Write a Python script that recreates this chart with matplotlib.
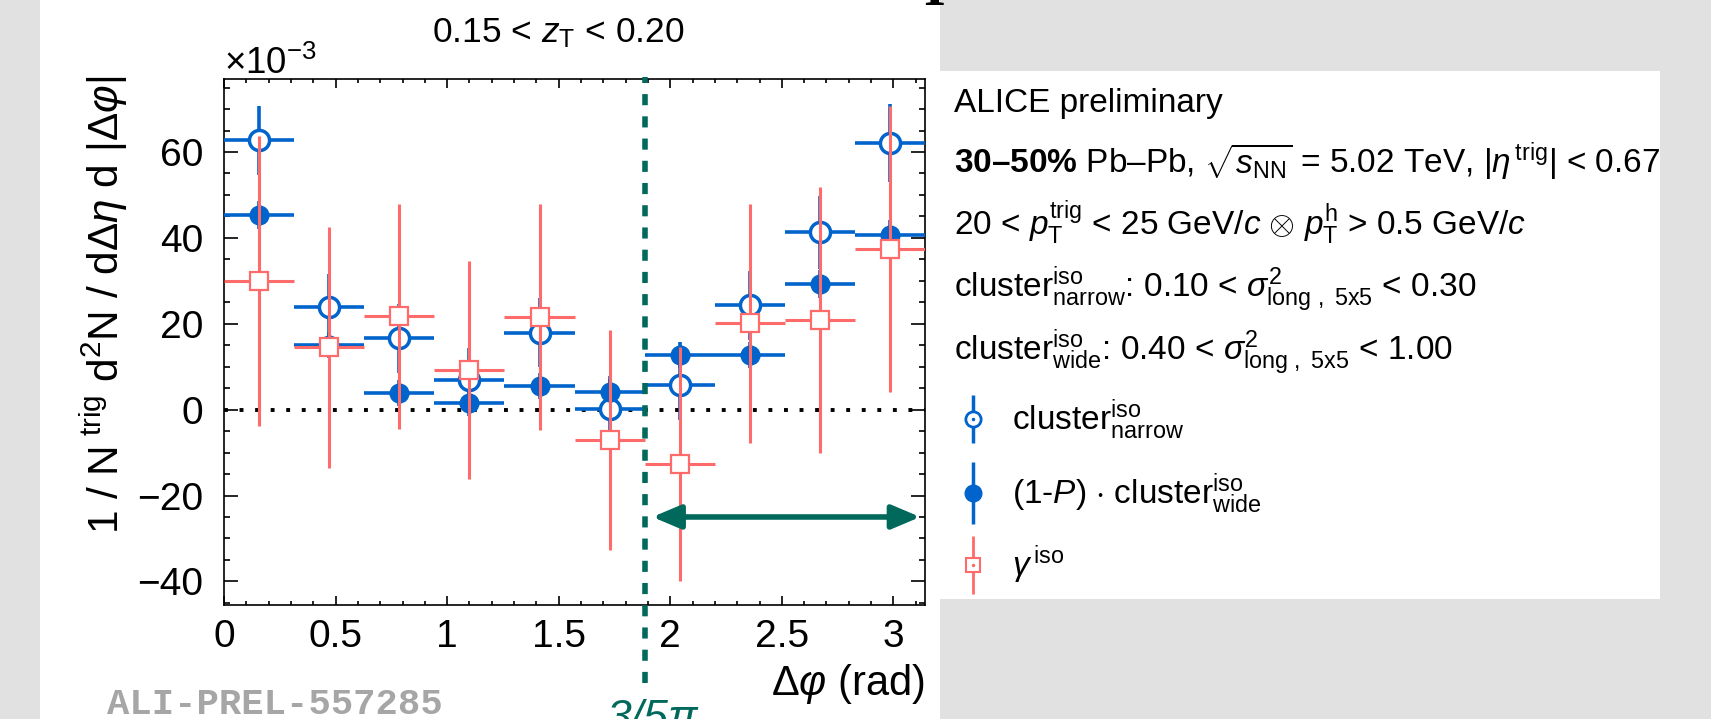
import numpy as np
import matplotlib.pyplot as plt
from matplotlib.patches import Rectangle
from matplotlib.lines import Line2D
from matplotlib.legend_handler import HandlerTuple
from matplotlib.ticker import MultipleLocator, FuncFormatter

plt.rcParams['font.family'] = ['Liberation Sans', 'DejaVu Sans']
plt.rcParams['mathtext.fontset'] = 'custom'
plt.rcParams['mathtext.rm'] = 'Liberation Sans'
plt.rcParams['mathtext.it'] = 'Liberation Sans:italic'
plt.rcParams['mathtext.bf'] = 'Liberation Sans:bold'

# --- datos (en unidades de 1e-3) ---
dphi = [0.157, 0.471, 0.785, 1.100, 1.414, 1.728, 2.042, 2.356, 2.670, 2.985]
dphi_err = [0.157, 0.157, 0.157, 0.157, 0.157, 0.157, 0.157, 0.157, 0.157, 0.157]

narrow = [62.7, 23.8, 16.6, 6.9, 17.9, 0.1, 5.7, 24.3, 41.3, 62.1]
narrow_err = [8.0, 7.9, 8.0, 7.5, 8.0, 7.8, 8.0, 8.0, 8.5, 9.0]

wide = [45.4, 15.0, 3.9, 1.6, 5.5, 4.1, 12.8, 12.8, 29.2, 40.6]
wide_err = [3.3, 3.0, 3.0, 3.0, 3.0, 3.0, 3.0, 3.0, 3.3, 3.5]

gamma = [29.9, 14.5, 21.7, 9.2, 21.6, -7.1, -12.6, 20.1, 20.8, 37.5]
gamma_err = [33.8, 28.0, 26.1, 25.4, 26.4, 25.6, 27.2, 27.9, 31.0, 33.3]

corte_phi = 3 * np.pi / 5
flecha_x = [1.92, 3.12]
flecha_y = -25

AZUL = '#0064cc'
ROJO = '#ff6a6a'
VERDE = '#00695c'

W, H = 1711, 719
fig = plt.figure(figsize=(W / 100, H / 100), dpi=100, facecolor='#e1e1e1')

# paneles blancos del fondo
fig.patches.append(Rectangle((40 / W, 0), 900 / W, 1, transform=fig.transFigure,
                             fc='white', ec='none', zorder=-5))
fig.patches.append(Rectangle((940 / W, 1 - 599 / H), 720 / W, 528 / H,
                             transform=fig.transFigure, fc='white', ec='none', zorder=-5))

ax = fig.add_axes([224 / W, 1 - 605 / H, 701 / W, 526 / H])
ax.set_zorder(2)
ax.set_xlim(0, np.pi)
ax.set_ylim(-45.5, 77)

ax.axhline(0, color='black', lw=2.8, ls=(0, (1, 3)), zorder=1)
ax.axvline(corte_phi, ymin=-0.148, ymax=1.004, color=VERDE, lw=4,
           ls=(0, (2.0, 2.0)), clip_on=False, zorder=6)

ax.errorbar(dphi, narrow, xerr=dphi_err, yerr=narrow_err, fmt='o', color=AZUL,
            mfc='white', mec=AZUL, ms=14.5, mew=2.5, elinewidth=2.6, capsize=0, zorder=3)
ax.errorbar(dphi, wide, xerr=dphi_err, yerr=wide_err, fmt='o', color=AZUL,
            mfc=AZUL, mec=AZUL, ms=13.5, mew=1, elinewidth=2.6, capsize=0, zorder=3)
ax.errorbar(dphi, gamma, xerr=dphi_err, yerr=gamma_err, fmt='s', color=ROJO,
            mfc='white', mec=ROJO, ms=12.5, mew=1.6, elinewidth=2.2, capsize=0, zorder=4)

ax.annotate('', xy=(flecha_x[0], flecha_y), xytext=(flecha_x[1], flecha_y),
            arrowprops=dict(arrowstyle='<|-|>,head_length=0.85,head_width=0.36',
                            color=VERDE, lw=4, shrinkA=0, shrinkB=0, mutation_scale=20),
            zorder=5)

# ejes y marcas
ax.xaxis.set_major_locator(MultipleLocator(0.5))
ax.xaxis.set_minor_locator(MultipleLocator(0.1))
ax.yaxis.set_major_locator(MultipleLocator(20))
ax.yaxis.set_minor_locator(MultipleLocator(5))
ax.xaxis.set_major_formatter(FuncFormatter(lambda v, p: f'{v:g}'))
ax.tick_params(which='both', direction='in', top=True, right=True, labelsize=28, width=1.2)
ax.tick_params(axis='x', which='major', length=6.3, pad=10)
ax.tick_params(axis='x', which='minor', length=3.1)
ax.tick_params(axis='y', which='major', length=10, pad=15)
ax.tick_params(axis='y', which='minor', length=4.3)
for s in ax.spines.values():
    s.set_linewidth(1.2)

ax.set_xlabel(r'$\Delta\varphi$ (rad)', fontsize=30, loc='right')
ax.xaxis.set_label_coords(1.0, -0.108)

fig.text(104 / W, 1 - 76 / H,
         r'$1\ /\ \mathrm{N}^{\ \mathrm{trig}}\ \mathrm{d}^{2}\mathrm{N}\ /\ \mathrm{d}\Delta\eta\ \mathrm{d}\ |\Delta\varphi|$',
         rotation=90, ha='center', va='top', fontsize=30.5)
fig.text(224 / W, 1 - 74 / H, r'$\times10^{-3}$', fontsize=26.5, va='baseline')
fig.text(558 / W, 1 - 42 / H, r'0.15 < $z_{\mathrm{T}}$ < 0.20', fontsize=25.5,
         ha='center', va='baseline')

# texto de la caja
lineas = [
    'ALICE preliminary',
    r'$\mathbf{30–50\%}$ Pb–Pb, $\sqrt{s_{\mathrm{NN}}}$ = 5.02 TeV, |$\eta^{\,\mathrm{trig}}$| < 0.67',
    r'20 < $p_{\mathrm{T}}^{\mathrm{trig}}$ < 25 GeV/$c$ $\otimes$ $p_{\mathrm{T}}^{\mathrm{h}}$ > 0.5 GeV/$c$',
    r'cluster$^{\mathrm{iso}}_{\mathrm{narrow}}$: 0.10 < $\sigma^{2}_{\mathrm{long\ ,\ 5x5}}$ < 0.30',
    r'cluster$^{\mathrm{iso}}_{\mathrm{wide}}$: 0.40 < $\sigma^{2}_{\mathrm{long\ ,\ 5x5}}$ < 1.00',
]
bases = [112, 173, 235, 297, 360]
for txt, yb in zip(lineas, bases):
    fig.text(954 / W, 1 - yb / H, txt, fontsize=24, va='baseline')

# leyenda: una entrada por fila para fijar su altura
h_narrow = (Line2D([], [], ls='none', marker='|', ms=35, mew=2.5, color=AZUL),
            Line2D([], [], ls='none', marker='o', ms=11, mfc='white', mec=AZUL, mew=2),
            Line2D([], [], ls='none', marker='.', ms=3, color=AZUL))
h_wide = (Line2D([], [], ls='none', marker='|', ms=44, mew=2.5, color=AZUL),
          Line2D([], [], ls='none', marker='o', ms=12, mfc=AZUL, mec=AZUL))
h_gamma = (Line2D([], [], ls='none', marker='|', ms=42, mew=2, color=ROJO),
           Line2D([], [], ls='none', marker='s', ms=9.5, mfc='white', mec=ROJO, mew=1.5),
           Line2D([], [], ls='none', marker='.', ms=3, color=ROJO))
entradas = [
    (h_narrow, r'cluster$^{\mathrm{iso}}_{\mathrm{narrow}}$', 420),
    (h_wide, r'(1-$P$) $\cdot$ cluster$^{\mathrm{iso}}_{\mathrm{wide}}$', 494),
    (h_gamma, r'$\gamma^{\,\mathrm{iso}}$', 565),
]
for h, lab, yc in entradas:
    fig.legend([h], [lab], handler_map={tuple: HandlerTuple(ndivide=1)},
               loc='center left', bbox_to_anchor=(956 / W, 1 - yc / H),
               frameon=False, fontsize=24, handlelength=1.0, handletextpad=0.68,
               borderpad=0, borderaxespad=0)

# marcas de la diapositiva
fig.text(107 / W, 1 - 714 / H, 'ALI-PREL-557285', family='Liberation Mono',
         fontweight='bold', fontsize=26.8, color='#a6a6a6', va='baseline')
fig.text(607 / W, 1 - 699 / H, '3/5π', color=VERDE, fontsize=32,
         style='italic', va='top')
fig.text(934 / W, 1 - 5 / H, 'I', family='Liberation Serif', fontweight='bold',
         fontsize=40, ha='center', va='baseline')

fig.savefig('out.png', dpi=100, facecolor=fig.get_facecolor())
